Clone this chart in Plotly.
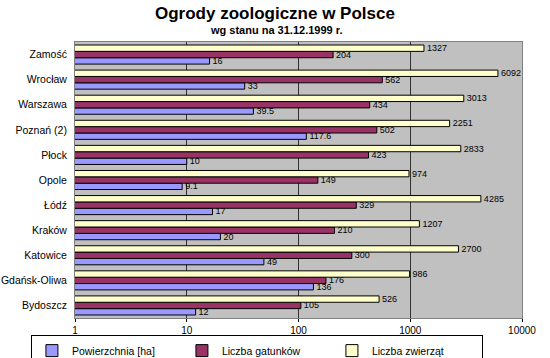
import plotly.graph_objects as go

categories = ["Bydoszcz", "Gdańsk-Oliwa", "Katowice", "Kraków", "Łódź", "Opole",
              "Płock", "Poznań (2)", "Warszawa", "Wrocław", "Zamość"]
powierzchnia = [12, 136, 49, 20, 17, 9.1, 10, 117.6, 39.5, 33, 16]
gatunki = [105, 176, 300, 210, 329, 149, 423, 502, 434, 562, 204]
zwierzeta = [526, 986, 2700, 1207, 4285, 974, 2833, 2251, 3013, 6092, 1327]
tick_vals = [1, 10, 100, 1000, 10000]
tick_text = ["1", "10", "100", "1000", "10000"]

FONT = "Arial, Liberation Sans, sans-serif"

def fmt(v):
    return f"{v:g}"

series = [
    ("Powierzchnia [ha]", powierzchnia, "#9999ff"),
    ("Liczba gatunków", gatunki, "#993366"),
    ("Liczba zwierząt", zwierzeta, "#ffffcc"),
]

fig = go.Figure()
for name, vals, col in series:
    fig.add_trace(go.Bar(
        y=categories, x=vals, name=name, orientation="h",
        marker=dict(color=col, line=dict(color="black", width=1)),
        text=[fmt(v) for v in vals], textposition="outside",
        textfont=dict(family=FONT, size=9, color="black"),
        cliponaxis=False,
    ))

fig.update_layout(
    width=550, height=358,
    margin=dict(l=75, r=28, t=42, b=40, autoexpand=False),
    paper_bgcolor="white", plot_bgcolor="#c0c0c0",
    barmode="group", bargap=0.24, bargroupgap=0,
    font=dict(family=FONT, size=11, color="black"),
    showlegend=True,
    legend=dict(orientation="h", x=0.407, xanchor="center", y=-0.062, yanchor="top",
                bordercolor="black", borderwidth=1, bgcolor="white",
                font=dict(size=10.5), entrywidth=105, entrywidthmode="pixels",
                traceorder="normal", itemwidth=30),
    uniformtext=dict(minsize=9, mode="show"),
)
fig.update_xaxes(type="log", range=[0, 4], tickvals=tick_vals, ticktext=tick_text,
                 showgrid=True, gridcolor="#303030", gridwidth=1,
                 showline=True, linecolor="#808080", mirror=True,
                 ticks="outside", ticklen=3, tickcolor="black",
                 tickfont=dict(size=10), zeroline=False, automargin=False)
fig.update_yaxes(showgrid=False, showline=True, linecolor="#808080", mirror=True,
                 ticks="", tickfont=dict(size=10.5), ticklabelstandoff=5, automargin=False)

fig.add_annotation(text="<b>Ogrody zoologiczne w Polsce</b>", xref="paper", yref="paper",
                   x=0.447, y=1, yshift=29, showarrow=False, yanchor="middle",
                   font=dict(family=FONT, size=17, color="black"))
fig.add_annotation(text="<b>wg stanu na 31.12.1999 r.</b>", xref="paper", yref="paper",
                   x=0.45, y=1, yshift=12, showarrow=False, yanchor="middle",
                   font=dict(family=FONT, size=11, color="black"))

fig.write_html("out.html", config={"displayModeBar": False},
               post_script="document.body.style.margin='0';document.body.style.padding='0';")
